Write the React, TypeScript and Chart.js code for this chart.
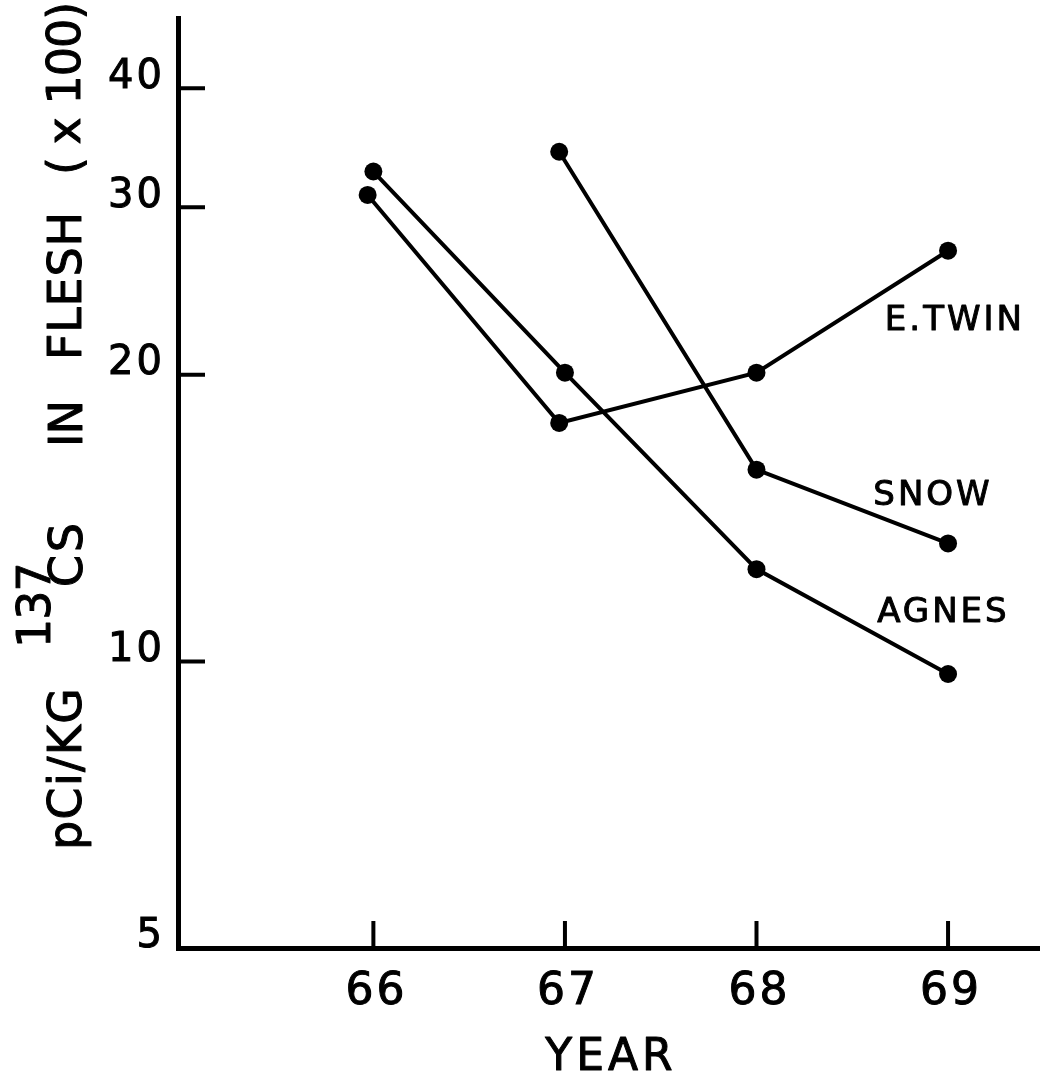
import React, { useEffect, useRef } from "react";
import { Chart, registerables } from "chart.js";

Chart.register(...registerables);

// ---- data ----
const agnesX = [66.0, 67.0, 68.0, 69.0];
const agnesY = [32.7, 20.1, 12.5, 9.7];
const eTwinX = [65.97, 66.97, 68.0, 69.0];
const eTwinY = [30.9, 17.8, 20.1, 27.0];
const snowX = [66.97, 68.0, 69.0];
const snowY = [34.3, 15.9, 13.3];

const yTickValues = [5, 10, 20, 30, 40];
const xTickValues = [66, 67, 68, 69];

const seriesNames = ["AGNES", "E.TWIN", "SNOW"];
// label anchors in data space (year, value) — left edge / baseline of each name
const labelAnchorX = [68.63, 68.67, 68.61];
const labelAnchorY = [11.0, 22.3, 14.6];

const xTitle = "YEAR";

const X_MIN = 64.98;
const X_MAX = 69.48;
const Y_MIN = 5;
const Y_MAX = 47.4;

const FONT = "'DejaVu Sans', 'Liberation Sans', sans-serif";

function toPoints(xs: number[], ys: number[]) {
  return xs.map((x, i) => ({ x, y: ys[i] }));
}

function zeroPadding(scale: any) {
  scale.paddingTop = 0;
  scale.paddingBottom = 0;
  scale.paddingLeft = 0;
  scale.paddingRight = 0;
}

function boldText(ctx: any, text: string, x: number, y: number) {
  ctx.fillText(text, x, y);
  ctx.strokeText(text, x, y);
}

const decorPlugin = {
  id: "decor",
  beforeDraw(chart: any) {
    const ctx = chart.ctx;
    ctx.save();
    ctx.fillStyle = "#ffffff";
    ctx.fillRect(0, 0, chart.width, chart.height);
    ctx.restore();
    (ctx as any).letterSpacing = "3px";
  },
  beforeDatasetsDraw(chart: any) {
    (chart.ctx as any).letterSpacing = "0px";
  },
  afterDraw(chart: any) {
    const ctx = chart.ctx;
    const area = chart.chartArea;
    const xs = chart.scales.x;
    const ys = chart.scales.y;
    ctx.save();
    (ctx as any).letterSpacing = "0px";
    ctx.strokeStyle = "#000";
    ctx.lineWidth = 4;
    ctx.lineCap = "butt";
    // inward tick marks
    ctx.beginPath();
    for (const v of yTickValues) {
      if (v <= Y_MIN) continue;
      const py = ys.getPixelForValue(v);
      ctx.moveTo(area.left, py);
      ctx.lineTo(area.left + 27, py);
    }
    for (const v of xTickValues) {
      const px = xs.getPixelForValue(v);
      ctx.moveTo(px, area.bottom);
      ctx.lineTo(px, area.bottom - 27);
    }
    ctx.stroke();

    ctx.fillStyle = "#000";
    ctx.strokeStyle = "#000";
    ctx.lineWidth = 1;
    ctx.lineJoin = "round";

    // x-axis title
    ctx.font = `44px ${FONT}`;
    ctx.textAlign = "center";
    ctx.textBaseline = "alphabetic";
    (ctx as any).letterSpacing = "4px";
    boldText(ctx, xTitle, (area.left + area.right) / 2 + 2, 1070);

    // y-axis title, rotated, with superscript
    ctx.font = `46px ${FONT}`;
    ctx.textAlign = "left";
    const parts = [
      { text: "pCi/KG", x: 81, y0: 850, y1: 688 },
      { text: "137", x: 50, y0: 648, y1: 570 },
      { text: "CS", x: 82, y0: 587, y1: 523 },
      { text: "IN", x: 82, y0: 447, y1: 407 },
      { text: "FLESH", x: 81, y0: 360, y1: 212 },
      { text: "( x 100)", x: 80, y0: 175, y1: 10 },
    ];
    for (const p of parts) {
      (ctx as any).letterSpacing = "0px";
      const w0 = ctx.measureText(p.text).width;
      const n = p.text.length;
      let s = n > 1 ? (p.y0 - p.y1 - w0) / (n - 1) : 0;
      s = Math.max(-1, Math.min(12, s));
      (ctx as any).letterSpacing = `${s}px`;
      ctx.save();
      ctx.translate(p.x, p.y0);
      ctx.rotate(-Math.PI / 2);
      boldText(ctx, p.text, 0, 0);
      ctx.restore();
    }

    // series name labels
    ctx.font = `34px ${FONT}`;
    (ctx as any).letterSpacing = "3px";
    for (let i = 0; i < seriesNames.length; i++) {
      const px = xs.getPixelForValue(labelAnchorX[i]);
      const py = ys.getPixelForValue(labelAnchorY[i]);
      boldText(ctx, seriesNames[i], px, py);
    }
    ctx.restore();
  },
};

export default function App() {
  const canvasRef = useRef<HTMLCanvasElement | null>(null);

  useEffect(() => {
    const canvas = canvasRef.current;
    if (!canvas) return;
    const lineStyle = {
      borderColor: "#000",
      borderWidth: 4,
      pointRadius: 9,
      pointHoverRadius: 9,
      pointBackgroundColor: "#000",
      pointBorderColor: "#000",
      pointBorderWidth: 0,
      fill: false,
      tension: 0,
    };
    const chart = new Chart(canvas, {
      type: "line",
      data: {
        datasets: [
          { label: seriesNames[0], data: toPoints(agnesX, agnesY), ...lineStyle },
          { label: seriesNames[1], data: toPoints(eTwinX, eTwinY), ...lineStyle },
          { label: seriesNames[2], data: toPoints(snowX, snowY), ...lineStyle },
        ],
      },
      options: {
        animation: false,
        responsive: false,
        devicePixelRatio: 1,
        layout: { autoPadding: false, padding: { top: 18, left: 0, right: 0, bottom: 0 } },
        plugins: {
          legend: { display: false },
          tooltip: { enabled: false },
        },
        scales: {
          x: {
            type: "linear",
            min: X_MIN,
            max: X_MAX,
            afterBuildTicks: (scale: any) => {
              scale.ticks = xTickValues.map((v) => ({ value: v }));
            },
            afterFit: (scale: any) => {
              scale.height = 130;
              zeroPadding(scale);
            },
            grid: { display: true, drawOnChartArea: false, drawTicks: false },
            border: { display: true, color: "#000", width: 5 },
            ticks: {
              autoSkip: false,
              maxRotation: 0,
              color: "#000",
              textStrokeColor: "#000",
              textStrokeWidth: 1,
              padding: 18,
              labelOffset: 3,
              font: { family: FONT, size: 44 },
              callback: (v: any) => String(v),
            },
            title: { display: false },
          },
          y: {
            type: "logarithmic",
            min: Y_MIN,
            max: Y_MAX,
            afterBuildTicks: (scale: any) => {
              scale.ticks = yTickValues.map((v) => ({ value: v }));
            },
            afterFit: (scale: any) => {
              scale.width = 178;
              zeroPadding(scale);
            },
            grid: { display: true, drawOnChartArea: false, drawTicks: false },
            border: { display: true, color: "#000", width: 5 },
            ticks: {
              autoSkip: false,
              color: "#000",
              textStrokeColor: "#000",
              textStrokeWidth: 1,
              padding: 13,
              labelOffset: -11,
              font: { family: FONT, size: 40 },
              callback: (v: any) => String(v),
            },
          },
        },
      },
      plugins: [decorPlugin],
    } as any);
    return () => chart.destroy();
  }, []);

  return (
    <div
      style={{
        position: "absolute",
        left: 0,
        top: 0,
        width: 1040,
        height: 1078,
        background: "#fff",
      }}
    >
      <canvas ref={canvasRef} width={1040} height={1078} style={{ display: "block" }} />
    </div>
  );
}
